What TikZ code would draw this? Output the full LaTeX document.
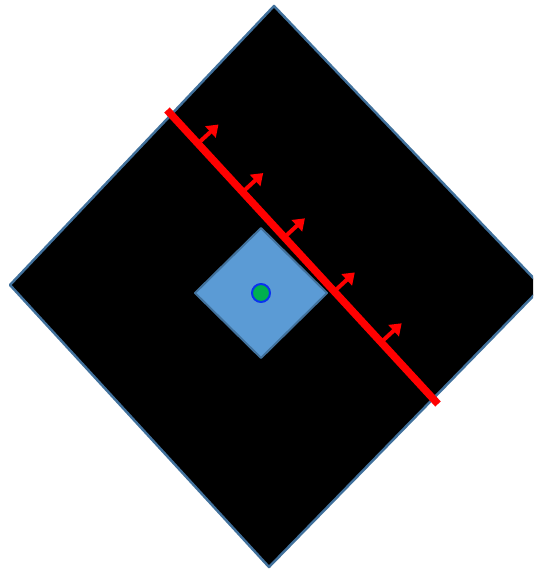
\documentclass[tikz,border=0pt]{standalone}
\usetikzlibrary{arrows.meta,calc}
\definecolor{rahmenblau}{HTML}{41719C}
\definecolor{flaechenblau}{HTML}{5B9BD5}
\definecolor{punktgruen}{HTML}{00B050}
\definecolor{punktrand}{HTML}{0A32F0}
\begin{document}
\begin{tikzpicture}[x=1pt, y=-1pt, line join=round]
  \clip (0,0) rectangle (533,569);
  % große schwarze Raute
  \draw[fill=black, draw=rahmenblau, line width=2.5pt] (274,6) -- (542,287) -- (269,567) -- (10,285) -- cycle;
  % kleine blaue Raute
  \draw[fill=flaechenblau, draw=rahmenblau, line width=2pt] (261,228) -- (327,293) -- (261,358) -- (195,293) -- cycle;
  % Mittelpunkt
  \draw[fill=punktgruen, draw=punktrand, line width=2pt] (261,293) circle (9);
  % rote Linie
  \coordinate (anfang) at (167,110);
  \coordinate (ende) at (438,404);
  \draw[red, line width=7.5pt] (anfang) -- (ende);
  % Pfeile senkrecht zur Linie
  \foreach \t in {0.114,0.279,0.433,0.617,0.790}
    \draw[red, line width=4pt, -{Triangle[width=15pt,length=11pt]}]
      ($(anfang)!\t!(ende)$) -- ($($(anfang)!\t!(ende)$)!28pt!90:(ende)$);
\end{tikzpicture}
\end{document}
